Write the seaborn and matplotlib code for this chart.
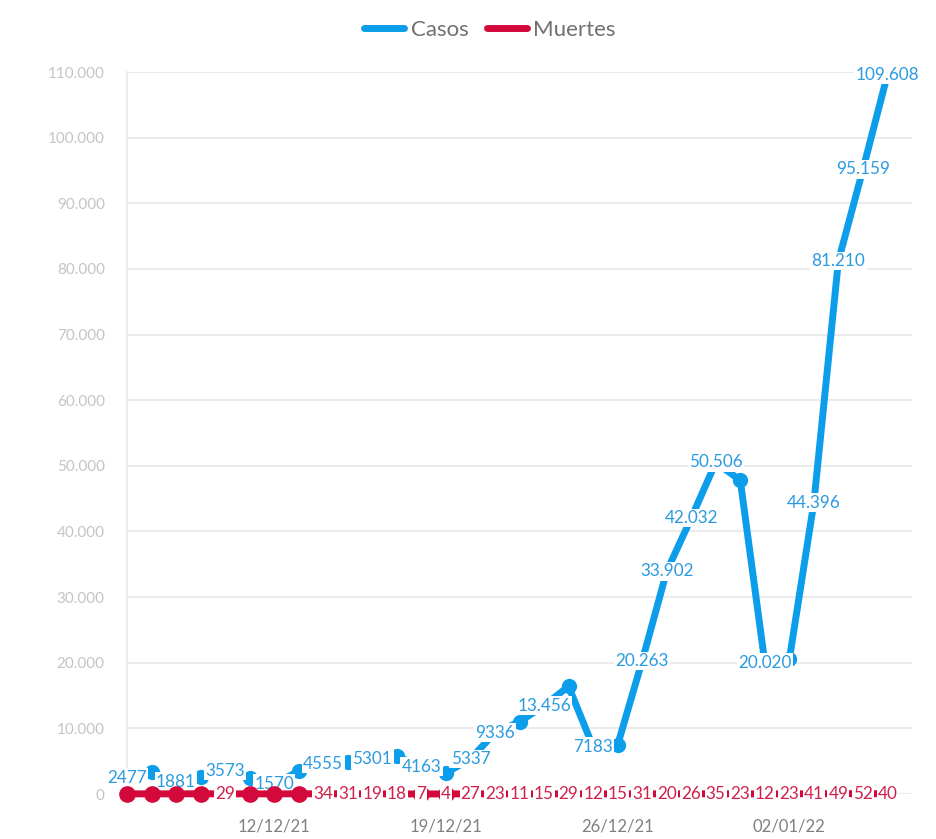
import matplotlib
matplotlib.use("Agg")
import matplotlib.pyplot as plt
import matplotlib.dates as mdates
import seaborn as sns
import pandas as pd
import numpy as np

# ---- data ----
start_date = "2021-12-06"
n_days = 32
casos = [2477, 3350, 1881, 2600, 3573, 2440, 1570, 3450, 4555, 4900, 5301, 5750,
         4163, 3200, 5337, 9336, 11000, 13456, 16400, 7183, 7470, 20263, 33902,
         42032, 50506, 47800, 20020, 20500, 44396, 81210, 95159, 109608]
muertes = [18, 25, 21, 30, 29, 22, 16, 26, 34, 31, 19, 18, 7, 4, 27, 23, 11, 15,
           29, 12, 15, 31, 20, 26, 35, 23, 12, 23, 41, 49, 52, 40]
casos_label_shown = [1, 0, 1, 0, 1, 0, 1, 0, 1, 0, 1, 0, 1, 0, 1, 1, 0, 1, 0, 1,
                     0, 1, 1, 1, 1, 0, 1, 0, 1, 1, 1, 1]
muertes_label_shown = [0, 0, 0, 0, 1, 0, 0, 0] + [1] * 24
tick_dates = ["2021-12-12", "2021-12-19", "2021-12-26", "2022-01-02"]
yticks = list(range(0, 110001, 10000))

dates = pd.date_range(start_date, periods=n_days, freq="D")
df = pd.DataFrame({"fecha": dates, "Casos": casos, "Muertes": muertes})

BLUE = "#0c9eea"
RED = "#d2093a"
BLUE_TXT = "#2a9be0"
RED_TXT = "#d0214b"
GRID = "#e8e8e8"

sns.set_theme(style="white")
plt.rcParams["font.family"] = ["Lato", "DejaVu Sans"]

fig = plt.figure(figsize=(9.37, 8.39), dpi=100)
ax = fig.add_axes([127 / 937, 45 / 839, (912 - 127) / 937, (794 - 72) / 839])

def fmt(v):
    if v >= 10000:
        return f"{v:,}".replace(",", ".")
    return str(v)

sns.lineplot(data=df, x="fecha", y="Casos", ax=ax, color=BLUE, lw=5,
             marker="o", markersize=11, markeredgewidth=0, zorder=3,
             label="Casos", solid_capstyle="round", clip_on=False)
for d, v, s in zip(dates, casos, casos_label_shown):
    if s:
        ax.text(d, v, fmt(v), ha="center", va="center", fontsize=12.3,
                color=BLUE_TXT, zorder=4, clip_on=False,
                bbox=dict(boxstyle="square,pad=0.08", fc="white", ec="none"))

sns.lineplot(data=df, x="fecha", y="Muertes", ax=ax, color=RED, lw=5,
             marker="o", markersize=12, markeredgewidth=0, zorder=5,
             label="Muertes", solid_capstyle="round", clip_on=False)
for d, v, s in zip(dates, muertes, muertes_label_shown):
    if s:
        ax.text(d, v, fmt(v), ha="center", va="center", fontsize=12.3,
                color=RED_TXT, zorder=6, clip_on=False,
                bbox=dict(boxstyle="square,pad=0.06", fc="white", ec="none"))

ax.set_xlim(dates[0], dates[0] + pd.Timedelta(days=32))
ax.set_ylim(0, 110000)
ax.set_yticks(yticks)
ax.set_yticklabels([f"{v:,}".replace(",", ".") for v in yticks])
ax.set_xticks(pd.to_datetime(tick_dates))
ax.xaxis.set_major_formatter(mdates.DateFormatter("%d/%m/%y"))
ax.set_xlabel("")
ax.set_ylabel("")

ax.yaxis.grid(True, color=GRID, lw=1.2, zorder=0)
ax.set_axisbelow(True)
for side in ["top", "right", "bottom"]:
    ax.spines[side].set_visible(False)
ax.spines["left"].set_color(GRID)
ax.spines["left"].set_linewidth(1.2)
ax.tick_params(axis="y", length=10, width=1.2, color=GRID, labelsize=11,
               labelcolor="#c4c4c4", pad=6)
ax.tick_params(axis="x", length=0, labelsize=12, labelcolor="#808080", pad=18)

ax.get_legend().remove()
handles = [plt.Line2D([], [], color=BLUE, lw=5), plt.Line2D([], [], color=RED, lw=5)]
fig.legend(handles, ["Casos", "Muertes"], loc="center", bbox_to_anchor=(490 / 937, 1 - 30 / 839),
           ncol=2, frameon=False, fontsize=16, handlelength=1.8, handletextpad=0.3,
           columnspacing=0.8, labelcolor="#707070")

fig.savefig("out.png", dpi=100, facecolor="white")
